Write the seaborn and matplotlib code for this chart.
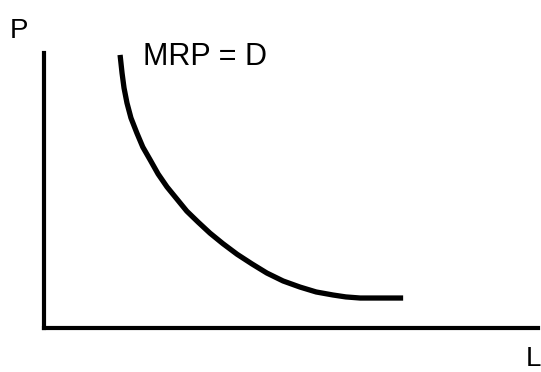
import numpy as np
import pandas as pd
import matplotlib.pyplot as plt
import seaborn as sns

# MRP = D curve (labour L vs price P, arbitrary units 0-100)
labour = [15.4, 15.8, 16.2, 16.8, 17.6, 18.8, 20.0, 21.5, 23.1, 24.9, 26.9, 28.9,
          31.2, 33.6, 36.2, 39.1, 42.1, 45.1, 48.4, 51.8, 55.1, 58.5, 61.1, 64.0, 72.7]
price = [99.3, 92.7, 87.3, 81.8, 76.4, 70.9, 65.8, 61.1, 56.0, 51.3, 46.9, 42.5,
         38.5, 34.5, 30.7, 26.8, 23.3, 20.0, 17.1, 14.9, 13.1, 12.0, 11.3, 10.9, 10.9]
curve_label = "MRP = D"
x_label = "L"
y_label = "P"

sns.set_style("white")
plt.rcParams['font.family'] = ['Liberation Sans', 'DejaVu Sans']
plt.rcParams['text.color'] = 'black'

df = pd.DataFrame({"L": labour, "P": price})

fig = plt.figure(figsize=(5.41, 3.72), dpi=100)
ax = fig.add_axes([44 / 541, 44 / 372, 494 / 541, 275 / 372])

sns.lineplot(data=df, x="L", y="P", ax=ax, color="black", linewidth=3.8,
             sort=False, estimator=None, solid_capstyle="butt",
             solid_joinstyle="round")

ax.set_xlim(0, 100)
ax.set_ylim(0, 100)
ax.set_xticks([])
ax.set_yticks([])
ax.set_xlabel("")
ax.set_ylabel("")
sns.despine(ax=ax)
for side in ["left", "bottom"]:
    ax.spines[side].set_linewidth(3)
    ax.spines[side].set_color("black")

ax.text(20, 95.5, curve_label, fontsize=22, ha="left", va="baseline",
        color="black")
fig.text(10 / 541, 1 - 38 / 372, y_label, fontsize=20, ha="left",
         va="baseline", color="black")
fig.text(526 / 541, 1 - 366 / 372, x_label, fontsize=20, ha="left",
         va="baseline", color="black")

fig.savefig("out.png", dpi=100)
